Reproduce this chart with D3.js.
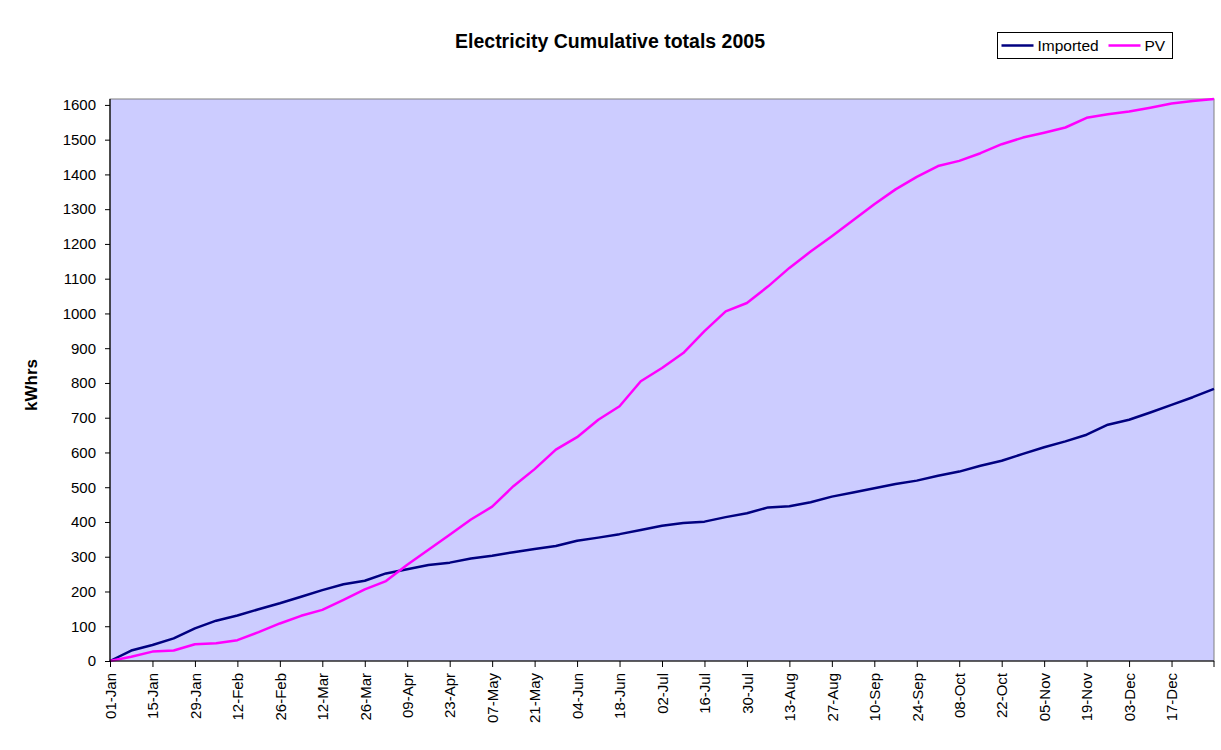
<!DOCTYPE html>
<html>
<head>
<meta charset="utf-8">
<script src="https://d3js.org/d3.v7.min.js"></script>
<style>
    body { margin: 0; background: #ffffff; }
    text { font-family: Arial, "Liberation Sans", sans-serif; }
</style>
</head>
<body>
<svg id="chart" width="1221" height="750"></svg>
<script>
// weekly readings, 2005
var weeks = ["01-Jan","08-Jan","15-Jan","22-Jan","29-Jan","05-Feb","12-Feb","19-Feb","26-Feb",
    "05-Mar","12-Mar","19-Mar","26-Mar","02-Apr","09-Apr","16-Apr","23-Apr","30-Apr",
    "07-May","14-May","21-May","28-May","04-Jun","11-Jun","18-Jun","25-Jun",
    "02-Jul","09-Jul","16-Jul","23-Jul","30-Jul","06-Aug","13-Aug","20-Aug","27-Aug",
    "03-Sep","10-Sep","17-Sep","24-Sep","01-Oct","08-Oct","15-Oct","22-Oct","29-Oct",
    "05-Nov","12-Nov","19-Nov","26-Nov","03-Dec","10-Dec","17-Dec","24-Dec","31-Dec"];

var imported = [0, 30, 46, 65, 94, 116, 131, 149, 166,
    185, 204, 221, 231, 252, 264, 276, 283, 295,
    303, 313, 322, 331, 346, 355, 365, 377,
    389, 397, 401, 414, 425, 442, 445, 457, 473,
    485, 497, 509, 519, 533, 545, 562, 576, 596,
    615, 632, 651, 680, 694, 715, 737, 759, 783];

var pv = [0, 12, 27, 30, 48, 51, 60, 83, 108,
    130, 147, 176, 206, 230, 277, 320, 363, 407,
    444, 503, 552, 608, 644, 694, 733, 805,
    843, 886, 949, 1006, 1030, 1078, 1131, 1178, 1222,
    1268, 1314, 1357, 1393, 1424, 1439, 1461, 1487, 1506,
    1520, 1535, 1563, 1573, 1581, 1592, 1604, 1611, 1617];

var xTickLabels = ["01-Jan","15-Jan","29-Jan","12-Feb","26-Feb","12-Mar","26-Mar","09-Apr",
    "23-Apr","07-May","21-May","04-Jun","18-Jun","02-Jul","16-Jul","30-Jul","13-Aug",
    "27-Aug","10-Sep","24-Sep","08-Oct","22-Oct","05-Nov","19-Nov","03-Dec","17-Dec"];

var yTicks = [0, 100, 200, 300, 400, 500, 600, 700, 800, 900, 1000,
    1100, 1200, 1300, 1400, 1500, 1600];
var yMax = 1617;

var seriesNames = ["Imported", "PV"];
var seriesColors = ["#000080", "#FF00FF"];

var parseDay = d3.timeParse("%d-%b-%Y");
function toDate(s) { return parseDay(s + "-2005"); }

var svg = d3.select("#chart"),
    margin = {top: 99, right: 7, bottom: 89, left: 110},
    width = +svg.attr("width") - margin.left - margin.right,
    height = +svg.attr("height") - margin.top - margin.bottom;

var g = svg.append("g")
    .attr("transform", "translate(" + margin.left + "," + margin.top + ")");

var x = d3.scaleTime()
    .domain([toDate("01-Jan"), toDate("31-Dec")])
    .range([0, width]);

var y = d3.scaleLinear()
    .domain([0, yMax])
    .range([height, 0]);

// plot area
g.append("rect")
    .attr("width", width)
    .attr("height", height)
    .attr("fill", "#CCCCFF")
    .attr("stroke", "#808080")
    .attr("stroke-width", 1);

var data = weeks.map(function(w, i) {
    return {date: toDate(w), imported: imported[i], pv: pv[i]};
});

var keys = ["imported", "pv"];
keys.forEach(function(k, i) {
    var line = d3.line()
        .x(function(d) { return x(d.date); })
        .y(function(d) { return y(d[k]); });
    g.append("path")
        .datum(data)
        .attr("fill", "none")
        .attr("stroke", seriesColors[i])
        .attr("stroke-width", 2.5)
        .attr("stroke-linejoin", "round")
        .attr("d", line);
});

// axes
var yAxisCall = d3.axisLeft(y)
    .tickValues(yTicks)
    .tickSize(5)
    .tickPadding(9)
    .tickFormat(d3.format("d"));

var xAxisCall = d3.axisBottom(x)
    .tickValues(xTickLabels.map(toDate))
    .tickSize(6)
    .tickPadding(6)
    .tickFormat(d3.timeFormat("%d-%b"));

var gy = g.append("g")
    .attr("class", "y axis")
    .call(yAxisCall);

var gx = g.append("g")
    .attr("class", "x axis")
    .attr("transform", "translate(0," + height + ")")
    .call(xAxisCall);

gx.append("line")
    .attr("x1", width)
    .attr("x2", width)
    .attr("y1", 0)
    .attr("y2", 6)
    .attr("stroke", "#000");

[gx, gy].forEach(function(a) {
    a.select(".domain").attr("stroke", "#000").attr("stroke-width", 1.2);
    a.selectAll(".tick line").attr("stroke", "#000");
    a.selectAll("text")
        .attr("fill", "#000")
        .style("font-size", "15px");
});
gy.select(".domain").attr("d", "M0," + height + "V0");
gx.select(".domain").attr("d", "M0,0H" + width);

gx.selectAll(".tick text")
    .attr("transform", "rotate(-90)")
    .attr("text-anchor", "end")
    .attr("x", -12)
    .attr("y", 0)
    .attr("dy", "0.35em");

// title
svg.append("text")
    .attr("x", 610)
    .attr("y", 48)
    .attr("text-anchor", "middle")
    .style("font-size", "19.5px")
    .style("font-weight", "bold")
    .text("Electricity Cumulative totals 2005");

// y label
svg.append("text")
    .attr("transform", "translate(37,385) rotate(-90)")
    .attr("text-anchor", "middle")
    .style("font-size", "17px")
    .style("font-weight", "bold")
    .text("kWhrs");

// legend
var legend = svg.append("g")
    .attr("transform", "translate(997.5,32.5)");

legend.append("rect")
    .attr("width", 175)
    .attr("height", 26)
    .attr("fill", "#fff")
    .attr("stroke", "#000");

var legendX = [4, 111];
seriesNames.forEach(function(name, i) {
    legend.append("line")
        .attr("x1", legendX[i])
        .attr("x2", legendX[i] + 32)
        .attr("y1", 13)
        .attr("y2", 13)
        .attr("stroke", seriesColors[i])
        .attr("stroke-width", 2.5);
    legend.append("text")
        .attr("x", legendX[i] + 36)
        .attr("y", 18.5)
        .style("font-size", "15.5px")
        .text(name);
});
</script>
</body>
</html>
